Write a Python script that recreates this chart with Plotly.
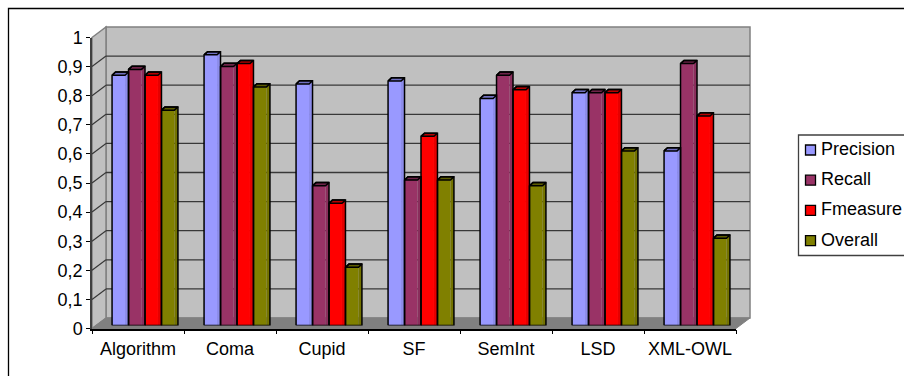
import plotly.graph_objects as go

categories = ["Algorithm", "Coma", "Cupid", "SF", "SemInt", "LSD", "XML-OWL"]
precision = [0.86, 0.93, 0.83, 0.84, 0.78, 0.80, 0.60]
recall = [0.88, 0.89, 0.48, 0.50, 0.86, 0.80, 0.90]
fmeasure = [0.86, 0.90, 0.42, 0.65, 0.81, 0.80, 0.72]
overall = [0.74, 0.82, 0.20, 0.50, 0.48, 0.60, 0.30]
series_names = ["Precision", "Recall", "Fmeasure", "Overall"]
series_values = [precision, recall, fmeasure, overall]
face_colors = ["#9999FF", "#993366", "#FF0000", "#808000"]
side_colors = ["#8C8CEB", "#8A2E5C", "#E60000", "#737300"]
cap_colors = ["#7070C0", "#6E2449", "#B80000", "#5C5C00"]
y_ticks = [0, 0.1, 0.2, 0.3, 0.4, 0.5, 0.6, 0.7, 0.8, 0.9, 1]
y_tick_labels = ["0", "0,1", "0,2", "0,3", "0,4", "0,5", "0,6", "0,7", "0,8", "0,9", "1"]

W, H = 904, 376
FONT = "Liberation Sans"
FS = 18
X0, X1 = 92.0, 736.0          # front axis span
Y0, Y1 = 328.5, 37.5          # front axis value 0 and 1
DX, DY = 14.0, 10.5           # depth of the box
BX, BY = 7.0, 3.0             # offset of the bars inside the box


def px(x):
    return x / W


def py(y):
    return 1 - y / H


def poly(points, fill, line="rgba(0,0,0,0)", width=0):
    path = "M " + " L ".join(f"{px(a):.5f},{py(b):.5f}" for a, b in points) + " Z"
    return dict(type="path", path=path, xref="paper", yref="paper", fillcolor=fill,
                line=dict(color=line, width=width), layer="below")


def seg(a, b, c, d, color, width):
    return dict(type="line", xref="paper", yref="paper", x0=px(a), y0=py(b), x1=px(c), y1=py(d),
                line=dict(color=color, width=width), layer="below")


shapes = [
    poly([(X0 + DX, Y1 - DY), (X1 + DX, Y1 - DY), (X1 + DX, Y0 - DY), (X0 + DX, Y0 - DY)], "#C0C0C0", "#808080", 1.5),
    poly([(X0, Y1), (X0 + DX, Y1 - DY), (X0 + DX, Y0 - DY), (X0, Y0)], "#C0C0C0", "#808080", 1.5),
    poly([(X0, Y0), (X0 + DX, Y0 - DY), (X1 + DX, Y0 - DY), (X1, Y0)], "#808080", "#808080", 1),
    poly([(8.5, 8.5), (920, 8.5), (920, 390), (8.5, 390)], "rgba(0,0,0,0)", "black", 1.3),
]
for v in y_ticks[1:-1]:
    y = Y0 + (Y1 - Y0) * v
    shapes.append(seg(X0 + DX, y - DY, X1 + DX, y - DY, "#383838", 1.3))
    shapes.append(seg(X0, y, X0 + DX, y - DY, "#383838", 1.2))

# legend box, swatches and labels
LEG_L, LEG_T, LEG_B = 798.5, 135.0, 255.5
shapes.append(dict(type="rect", xref="paper", yref="paper", x0=px(LEG_L), x1=px(920), y0=py(LEG_T), y1=py(LEG_B),
                   fillcolor="white", line=dict(color="#404040", width=1.3), layer="below"))
annotations = []
axis_font = dict(family=FONT, size=FS, color="black")
for s, name in enumerate(series_names):
    cy = 150 + s * 30.2
    shapes.append(dict(type="rect", xref="paper", yref="paper", x0=px(805.5), x1=px(815.5), y0=py(cy - 5), y1=py(cy + 5),
                       fillcolor=face_colors[s], line=dict(color="black", width=1.3), layer="above"))
    annotations.append(dict(xref="paper", yref="paper", x=px(822), y=py(cy - 1), text=name, showarrow=False,
                            xanchor="left", yanchor="middle", xshift=-1, font=axis_font, align="left",
                            borderpad=0, borderwidth=0))

fig = go.Figure()
# keeps the front axes drawn
fig.add_trace(go.Scatter(x=[None], y=[None], mode="markers", showlegend=False, hoverinfo="skip"))

bar_w = 0.179
side_x = 3.5 / 92
cap_y = 3.2 / 291
n = len(series_names)
centers = [i + 0.5 for i in range(len(categories))]
edge = dict(color="black", width=1.5)
for s, (name, vals) in enumerate(zip(series_names, series_values)):
    left = [c - n * bar_w / 2 + s * bar_w for c in centers]
    fig.add_trace(go.Bar(
        x=left, y=vals, width=bar_w - side_x, offset=0, name=name, xaxis="x2", yaxis="y2",
        marker=dict(color=face_colors[s], line=dict(width=0)),
        showlegend=False, hoverinfo="skip"))
    for l, v in zip(left, vals):
        r = l + bar_w
        fig.add_trace(go.Scatter(
            x=[r - side_x, r, r, r - side_x, r - side_x], y=[0, 0, v + cap_y, v, 0],
            mode="lines", fill="toself", fillcolor=side_colors[s], line=dict(width=0),
            xaxis="x2", yaxis="y2", showlegend=False, hoverinfo="skip"))
        fig.add_trace(go.Scatter(
            x=[l, r - side_x, r, l + side_x, l], y=[v, v, v + cap_y, v + cap_y, v],
            mode="lines", fill="toself", fillcolor=cap_colors[s], line=edge,
            xaxis="x2", yaxis="y2", showlegend=False, hoverinfo="skip"))
        fig.add_trace(go.Scatter(
            x=[l, r, r, l + side_x, l, l], y=[0, 0, v + cap_y, v + cap_y, v, 0],
            mode="lines", line=edge, xaxis="x2", yaxis="y2", showlegend=False, hoverinfo="skip"))

fig.update_layout(
    width=W, height=H, margin=dict(l=0, r=0, t=0, b=0, pad=0, autoexpand=False),
    paper_bgcolor="white", plot_bgcolor="rgba(0,0,0,0)", barmode="overlay", showlegend=False,
    shapes=shapes, annotations=annotations,
    xaxis=dict(domain=[px(X0), px(X1)], range=[0, 7], tickmode="array", tickvals=centers, ticktext=categories,
               ticks="", showgrid=False, zeroline=False, showline=True, linecolor="black", linewidth=1.5,
               tickfont=axis_font, ticklabelstandoff=3,
               minor=dict(tick0=0, dtick=1, ticks="outside", ticklen=4, tickcolor="black", tickwidth=1.2, showgrid=False)),
    yaxis=dict(domain=[py(Y0), py(Y1)], range=[0, 1], tickmode="array", tickvals=y_ticks, ticktext=y_tick_labels,
               ticks="outside", ticklen=4, tickcolor="black", tickwidth=1.2, showgrid=False, zeroline=False,
               showline=True, linecolor="#404040", linewidth=1.5, tickfont=axis_font),
    xaxis2=dict(domain=[px(X0 + BX), px(X1 + BX)], range=[0, 7], visible=False, anchor="y2"),
    yaxis2=dict(domain=[py(Y0 - BY), py(Y1 - BY)], range=[0, 1], visible=False, anchor="x2"),
)
fig.write_html("out.html", post_script="document.body.style.margin='0';", config=dict(displayModeBar=False))
